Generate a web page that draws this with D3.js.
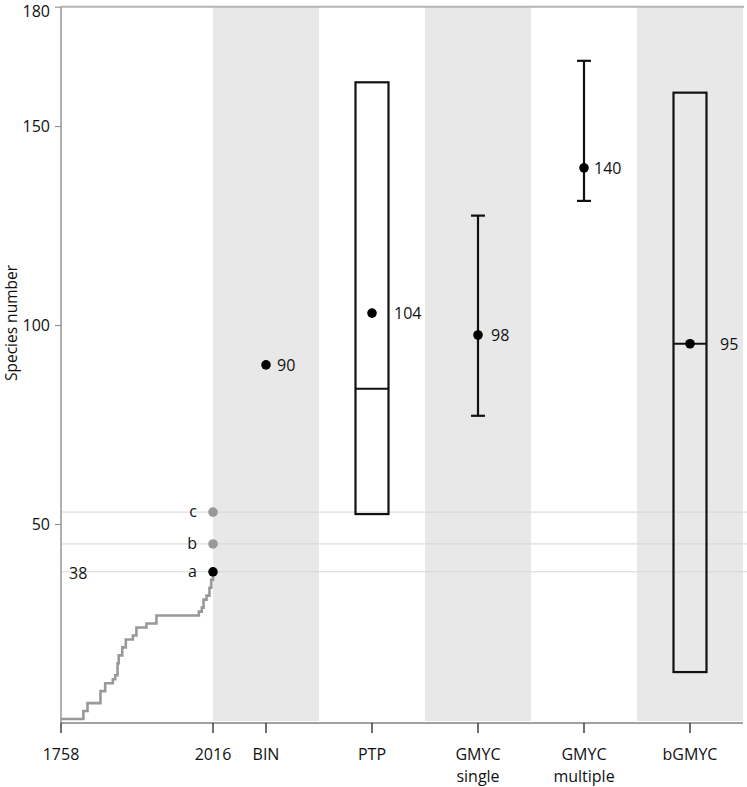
<!DOCTYPE html>
<html><head><meta charset="utf-8">
<script src="https://cdn.jsdelivr.net/npm/d3@7"></script>
<style>body{margin:0;background:#fff} svg{display:block} text{font-family:"Open Sans",sans-serif;fill:#111}</style>
</head><body><svg id="c" width="747" height="787"></svg>
<script>
// ---- data ----
const categories = ["BIN", "PTP", "GMYC single", "GMYC multiple", "bGMYC"];
const categoryLines = [["BIN"], ["PTP"], ["GMYC", "single"], ["GMYC", "multiple"], ["bGMYC"]];
const shadedCategories = ["BIN", "GMYC single", "bGMYC"];
const pointValues = [90, 103, 97.5, 139.5, 95.3];
const pointLabels = ["90", "104", "98", "140", "95"];
const boxCategories = ["PTP", "bGMYC"];
const boxLow = [52.5, 12.8];
const boxHigh = [161, 158.4];
const boxMedian = [84, 95.3];
const errCategories = ["GMYC single", "GMYC multiple"];
const errLow = [77.2, 131.2];
const errHigh = [127.5, 166.4];
const years = [1758, 1796, 1803, 1825, 1833, 1846, 1850, 1854, 1856, 1862, 1868, 1880, 1886, 1903, 1920, 1992, 1997, 2000, 2005, 2010, 2013, 2016];
const cumulativeSpecies = [1, 3, 5, 8, 10, 11, 12, 15, 17, 19, 21, 22, 24, 25, 27, 28, 29, 31, 32, 34, 36, 38];
const refLabels = ["a", "b", "c"];
const refValues = [38, 45, 53];
const refColors = ["#000", "#999", "#999"];
const yTicks = [50, 100, 150, 180];
const yearTicks = [1758, 2016];
const yTitle = "Species number";
const observedLabel = "38";

// ---- scales ----
const svg = d3.select("#c");
const y = d3.scaleLinear().domain([0, 180]).range([723, 6.7]);
const xYear = d3.scaleLinear().domain([1758, 2016]).range([61, 213]);
const xCat = d3.scaleBand().domain(categories).range([213, 743]).padding(0);
const cx = c => xCat(c) + xCat.bandwidth() / 2;
const right = 743;

// shaded bands
svg.append("g").selectAll("rect").data(shadedCategories).join("rect")
  .attr("x", d => xCat(d)).attr("width", xCat.bandwidth())
  .attr("y", y(180)).attr("height", 721 - y(180))
  .attr("fill", "#e8e8e8");

// reference lines
svg.append("g").selectAll("line").data(refValues).join("line")
  .attr("x1", 61).attr("x2", 747)
  .attr("y1", d => y(d)).attr("y2", d => y(d))
  .attr("stroke", "#d6d6d6").attr("stroke-width", 1);

// top border
svg.append("line").attr("x1", 61).attr("x2", right + 1)
  .attr("y1", y(180)).attr("y2", y(180))
  .attr("stroke", "#b5b5b5").attr("stroke-width", 2);

// y axis
const yAxis = svg.append("g").attr("transform", "translate(61,0)")
  .call(d3.axisLeft(y).tickValues(yTicks).tickSize(6).tickPadding(5).tickFormat(d3.format("d")));
yAxis.select(".domain").attr("stroke", "#b0b0b0").attr("stroke-width", 2).attr("d", `M0,${y(180)}V${y(0)}`);
yAxis.selectAll(".tick line").attr("stroke", "#888");
yAxis.selectAll(".tick text").attr("font-size", 16).attr("fill", "#111").attr("font-family", "Open Sans")
  .attr("y", d => d === 180 ? 5 : 0);

svg.append("text").attr("transform", "translate(17,323) rotate(-90)")
  .attr("text-anchor", "middle").attr("font-size", 15.5).text(yTitle);

// x axis (year part + categories)
svg.append("line").attr("x1", 61).attr("x2", right).attr("y1", y(0)).attr("y2", y(0))
  .attr("stroke", "#444").attr("stroke-width", 1);
const tickXs = yearTicks.map(d => xYear(d)).concat(categories.map(cx));
svg.append("g").selectAll("line").data(tickXs).join("line")
  .attr("x1", d => d).attr("x2", d => d).attr("y1", y(0)).attr("y2", y(0) + 10)
  .attr("stroke", "#222").attr("stroke-width", 1.3);
svg.append("g").selectAll("text").data(yearTicks).join("text")
  .attr("x", d => xYear(d)).attr("y", 760).attr("text-anchor", "middle")
  .attr("font-size", 16).text(d => d);
const catText = svg.append("g").selectAll("text").data(categories).join("text")
  .attr("x", d => cx(d)).attr("y", 760).attr("text-anchor", "middle").attr("font-size", 16);
catText.selectAll("tspan").data((d, i) => categoryLines[i]).join("tspan")
  .attr("x", function() { return d3.select(this.parentNode).attr("x"); })
  .attr("dy", (d, i) => i === 0 ? 0 : 22).text(d => d);

// cumulative description curve
const line = d3.line().x((d, i) => xYear(years[i])).y(d => y(d)).curve(d3.curveStepAfter);
svg.append("path").attr("d", line(cumulativeSpecies))
  .attr("fill", "none").attr("stroke", "#999").attr("stroke-width", 2.6);

// a, b, c points
svg.append("g").selectAll("circle").data(refValues).join("circle")
  .attr("cx", xYear(2016)).attr("cy", d => y(d)).attr("r", 4.8)
  .attr("fill", (d, i) => refColors[i]);
svg.append("g").selectAll("text").data(refValues).join("text")
  .attr("x", 197).attr("y", d => y(d) + 5).attr("text-anchor", "end")
  .attr("font-size", 16).text((d, i) => refLabels[i]);
svg.append("text").attr("x", 69).attr("y", y(refValues[0]) + 7)
  .attr("font-size", 16).text(observedLabel);

// boxes
const bw = 33;
boxCategories.forEach((c, i) => {
  svg.append("rect").attr("x", cx(c) - bw / 2).attr("width", bw)
    .attr("y", y(boxHigh[i])).attr("height", y(boxLow[i]) - y(boxHigh[i]))
    .attr("fill", "none").attr("stroke", "#111").attr("stroke-width", 2.2);
  svg.append("line").attr("x1", cx(c) - bw / 2).attr("x2", cx(c) + bw / 2)
    .attr("y1", y(boxMedian[i])).attr("y2", y(boxMedian[i]))
    .attr("stroke", "#111").attr("stroke-width", 2);
});

// error bars
errCategories.forEach((c, i) => {
  const g = svg.append("g").attr("stroke", "#111").attr("stroke-width", 2.2);
  g.append("line").attr("x1", cx(c)).attr("x2", cx(c)).attr("y1", y(errLow[i])).attr("y2", y(errHigh[i]));
  [errLow[i], errHigh[i]].forEach(v => g.append("line")
    .attr("x1", cx(c) - 7).attr("x2", cx(c) + 7).attr("y1", y(v)).attr("y2", y(v)));
});

// points and labels
svg.append("g").selectAll("circle").data(pointValues).join("circle")
  .attr("cx", (d, i) => cx(categories[i])).attr("cy", d => y(d)).attr("r", 4.8).attr("fill", "#000");
const labelOffsets = [11, 22, 13, 10, 30];
svg.append("g").selectAll("text").data(pointValues).join("text")
  .attr("x", (d, i) => cx(categories[i]) + labelOffsets[i]).attr("y", d => y(d) + 6)
  .attr("font-size", 16).text((d, i) => pointLabels[i]);
</script></body></html>
